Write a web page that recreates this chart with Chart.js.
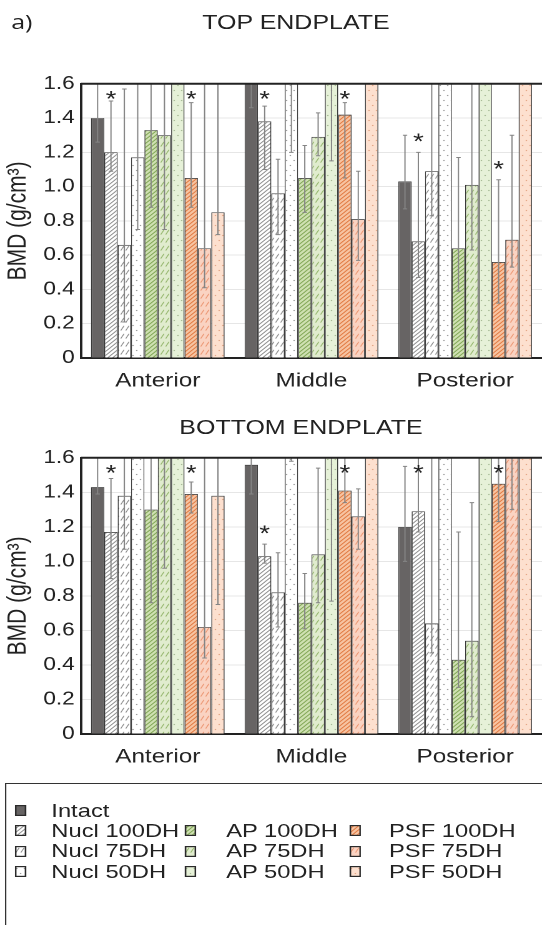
<!DOCTYPE html>
<html><head><meta charset="utf-8">
<script src="https://cdn.jsdelivr.net/npm/chart.js@4"></script>
<style>
html,body{margin:0;padding:0;background:#fff;overflow:hidden;width:542px;height:925px;}
#wrap{position:absolute;left:0;top:0;width:434px;height:925px;transform:scaleX(1.2488);transform-origin:0 0;font-family:"Liberation Sans",Arial,sans-serif;color:#222;}
.t{position:absolute;white-space:nowrap;font-size:20px;line-height:20px;}
.box{position:absolute;left:0;width:434px;}
#legend{position:absolute;left:4px;top:783px;width:480px;height:170px;border:1.5px solid #333;}
.sw{position:absolute;}
.lt{position:absolute;font-size:19px;line-height:20px;white-space:nowrap;color:#222;}
</style></head>
<body>
<div id="wrap">
  <div class="t" style="left:9px;top:12px;font-family:'Open Sans',sans-serif;font-size:20px;">a)</div>
  <div class="t" style="left:137px;top:12px;width:200px;text-align:center;">TOP ENDPLATE</div>
  <div class="box" style="top:68px;height:330px;"><canvas id="c1" width="434" height="330"></canvas></div>
  <div class="t" style="left:141px;top:417px;width:200px;text-align:center;">BOTTOM ENDPLATE</div>
  <div class="box" style="top:442px;height:332px;"><canvas id="c2" width="434" height="332"></canvas></div>
  <div id="legend"></div>
</div>
<script>
// ---------- DATA ----------
const categories = ['Anterior', 'Middle', 'Posterior'];
const seriesNames = ['Intact', 'Nucl 100DH', 'Nucl 75DH', 'Nucl 50DH', 'AP 100DH', 'AP 75DH', 'AP 50DH', 'PSF 100DH', 'PSF 75DH', 'PSF 50DH'];
const yTickValues = [0, 0.2, 0.4, 0.6, 0.8, 1.0, 1.2, 1.4, 1.6];

// TOP ENDPLATE (bars that run off the top of the axis are > 1.6)
const topValues = [
  [1.40, 1.75, 1.03],
  [1.20, 1.38, 0.68],
  [0.66, 0.96, 1.09],
  [1.17, 1.75, 1.75],
  [1.33, 1.05, 0.64],
  [1.30, 1.29, 1.01],
  [1.75, 1.75, 1.75],
  [1.05, 1.42, 0.56],
  [0.64, 0.81, 0.69],
  [0.85, 1.75, 1.75]
];
const topErrLow = [
  [1.26, 1.46, 0.87],
  [1.09, 1.10, 0.47],
  [0.21, 0.72, 0.83],
  [0.75, 1.20, null],
  [0.88, 0.85, 0.39],
  [0.75, 1.18, 0.63],
  [null, 1.15, null],
  [0.88, 1.05, 0.32],
  [0.41, 0.57, 0.53],
  [0.72, null, null]
];
const topErrHigh = [
  [1.90, 1.90, 1.30],
  [1.50, 1.47, 1.20],
  [1.57, 1.16, 1.90],
  [1.90, 1.90, null],
  [1.90, 1.24, 1.17],
  [1.90, 1.43, 1.90],
  [null, 1.90, null],
  [1.49, 1.49, 1.04],
  [1.90, 1.09, 1.30],
  [1.90, null, null]
];
const topStars = [
  [0,0,0],[1,1,1],[0,0,0],[0,0,0],[0,0,0],[0,0,0],[0,0,0],[1,1,1],[0,0,0],[0,0,0]
];

// BOTTOM ENDPLATE
const bottomValues = [
  [1.43, 1.56, 1.20],
  [1.17, 1.03, 1.29],
  [1.38, 0.82, 0.64],
  [1.75, 1.75, 1.75],
  [1.30, 0.76, 0.43],
  [1.75, 1.04, 0.54],
  [1.75, 1.75, 1.75],
  [1.39, 1.41, 1.45],
  [0.62, 1.26, 1.75],
  [1.38, 1.75, 1.75]
];
const bottomErrLow = [
  [1.39, 1.39, 1.00],
  [0.90, 0.99, 1.17],
  [1.07, 0.62, 0.47],
  [null, 1.58, null],
  [0.76, 0.61, 0.27],
  [0.96, 0.76, 0.10],
  [null, 0.77, null],
  [1.28, 1.34, 1.23],
  [0.44, 1.07, 1.30],
  [0.75, null, null]
];
const bottomErrHigh = [
  [1.90, 1.90, 1.55],
  [1.48, 1.10, 1.90],
  [1.90, 1.05, 1.90],
  [null, 1.90, null],
  [1.90, 0.93, 1.17],
  [1.90, 1.54, 1.34],
  [null, 1.90, null],
  [1.46, 1.90, 1.90],
  [1.90, 1.42, 1.90],
  [1.90, null, null]
];
const bottomStars = [
  [0,0,0],[1,1,1],[0,0,0],[0,0,0],[0,0,0],[0,0,0],[0,0,0],[1,1,1],[0,0,0],[0,0,0]
];

// ---------- STYLES ----------
const fillSpecs = [
  ['solid', '#676464', null],
  ['diag',  '#ffffff', '#8a8a8a'],
  ['short', '#ffffff', '#8c8c8c'],
  ['dots',  '#ffffff', '#a0a0a0'],
  ['diag',  '#cfe1b2', '#7ea452'],
  ['short', '#e0ecce', '#94b66c'],
  ['dots',  '#e6f1d8', '#a9bd98'],
  ['diag',  '#f7c4a2', '#e0773e'],
  ['short', '#fad3c2', '#ec9672'],
  ['dots',  '#fde0cf', '#e6a888']
];

function makePattern(kind, bg, fg) {
  if (kind === 'solid') return bg;
  const S = 2;
  let w, h;
  if (kind === 'diag') { w = 4; h = 4; }
  else if (kind === 'short') { w = 4; h = 8; }
  else { w = 6; h = 10; }
  const c = document.createElement('canvas');
  c.width = w * S; c.height = h * S;
  const g = c.getContext('2d');
  g.scale(S, S);
  g.fillStyle = bg; g.fillRect(0, 0, w, h);
  g.strokeStyle = fg; g.fillStyle = fg; g.lineWidth = 0.8;
  if (kind === 'diag') {
    g.beginPath();
    g.moveTo(-1, h + 1); g.lineTo(w + 1, -1);
    g.moveTo(-1, 1); g.lineTo(1, -1);
    g.moveTo(w - 1, h + 1); g.lineTo(w + 1, h - 1);
    g.stroke();
  } else if (kind === 'short') {
    g.beginPath(); g.moveTo(0.7, 6.6); g.lineTo(3.3, 1.8); g.stroke();
  } else {
    g.beginPath(); g.arc(1.5, 2.5, 0.65, 0, Math.PI * 2); g.fill();
    g.beginPath(); g.arc(4.5, 7.5, 0.65, 0, Math.PI * 2); g.fill();
  }
  const p = document.createElement('canvas').getContext('2d').createPattern(c, 'repeat');
  p.setTransform(new DOMMatrix([1 / S, 0, 0, 1 / S, 0, 0]));
  return p;
}
const fills = fillSpecs.map(s => makePattern(s[0], s[1], s[2]));

const FONT = "'Liberation Sans', Arial, sans-serif";
const INK = '#222222';

const errPlugin = {
  id: 'errStars',
  afterDatasetsDraw(chart) {
    const ctx = chart.ctx, ca = chart.chartArea, ys = chart.scales.y;
    ctx.save();
    ctx.beginPath();
    ctx.rect(ca.left, ca.top, ca.right - ca.left, ca.bottom - ca.top);
    ctx.clip();
    ctx.strokeStyle = '#858585';
    ctx.lineWidth = 1;
    const cw = 1.8;
    chart.data.datasets.forEach((ds, i) => {
      const meta = chart.getDatasetMeta(i);
      meta.data.forEach((bar, j) => {
        const lo = ds.errLow[j], hi = ds.errHigh[j];
        if (lo == null || hi == null) return;
        const x = bar.x, y1 = ys.getPixelForValue(lo), y2 = ys.getPixelForValue(hi);
        ctx.beginPath();
        ctx.moveTo(x, y1); ctx.lineTo(x, y2);
        ctx.moveTo(x - cw, y1); ctx.lineTo(x + cw, y1);
        ctx.moveTo(x - cw, y2); ctx.lineTo(x + cw, y2);
        ctx.stroke();
      });
    });
    ctx.restore();
    // significance stars
    ctx.save();
    ctx.fillStyle = INK;
    ctx.font = '22px ' + FONT;
    ctx.textAlign = 'center';
    ctx.textBaseline = 'alphabetic';
    chart.data.datasets.forEach((ds, i) => {
      const meta = chart.getDatasetMeta(i);
      meta.data.forEach((bar, j) => {
        if (!ds.stars[j]) return;
        const hi = ds.errHigh[j];
        const hp = hi == null ? ys.getPixelForValue(ds.data[j]) : ys.getPixelForValue(hi);
        const sy = Math.max(ca.top + 10, hp - 16);
        ctx.fillText('*', bar.x, sy + 12.8);
      });
    });
    // top frame line
    ctx.strokeStyle = INK;
    ctx.lineWidth = 2;
    ctx.beginPath();
    ctx.moveTo(ca.left, ca.top); ctx.lineTo(ca.right, ca.top);
    ctx.stroke();
    ctx.restore();
  }
};

function buildChart(id, values, lows, highs, stars) {
  const datasets = seriesNames.map((name, i) => ({
    label: name,
    data: values[i],
    errLow: lows[i],
    errHigh: highs[i],
    stars: stars[i],
    backgroundColor: fills[i],
    borderColor: '#3a3a3a',
    borderWidth: 0.8
  }));
  return new Chart(document.getElementById(id), {
    type: 'bar',
    data: { labels: categories, datasets },
    options: {
      responsive: false,
      devicePixelRatio: 2,
      animation: false,
      layout: { padding: { top: 11, left: 0, right: 0, bottom: 0 } },
      plugins: { legend: { display: false }, tooltip: { enabled: false }, title: { display: false } },
      datasets: { bar: { categoryPercentage: 0.87, barPercentage: 1.0 } },
      scales: {
        x: {
          grid: { display: false, drawTicks: false },
          border: { display: true, color: INK, width: 2 },
          ticks: { color: INK, font: { family: FONT, size: 19.5 }, padding: 11.5, maxRotation: 0 },
          afterFit(s) { s.height = 40; }
        },
        y: {
          min: 0, max: 1.6,
          afterBuildTicks(s) { s.ticks = yTickValues.map(v => ({ value: v })); },
          grid: { color: '#e6e6e6', lineWidth: 1, drawTicks: false },
          border: { display: true, color: INK, width: 2 },
          ticks: {
            color: INK, font: { family: FONT, size: 18 }, padding: 5,
            callback: v => (v === 0 ? '0' : Number(v).toFixed(1))
          },
          title: { display: true, text: 'BMD (g/cm³)', color: INK, font: { family: FONT, size: 21 }, padding: { top: 2, bottom: 0 } },
          afterFit(s) { s.width = 64.8; }
        }
      }
    },
    plugins: [errPlugin]
  });
}

buildChart('c1', topValues, topErrLow, topErrHigh, topStars);
buildChart('c2', bottomValues, bottomErrLow, bottomErrHigh, bottomStars);

// ---------- LEGEND ----------
const legend = document.getElementById('legend');
const legendCols = [[6.5, 36.1], [143.3, 176.1], [274.5, 306.5]];
const legendRows = [16.5, 36.5, 57, 77.5];
const legendPlace = [[0,0],[0,1],[0,2],[0,3],[1,1],[1,2],[1,3],[2,1],[2,2],[2,3]];
seriesNames.forEach((name, i) => {
  const [col, row] = legendPlace[i];
  const top = legendRows[row];
  const c = document.createElement('canvas');
  c.width = 18; c.height = 22;
  c.className = 'sw';
  c.style.width = '9px'; c.style.height = '11px';
  c.style.left = legendCols[col][0] + 'px';
  c.style.top = (top + 4.5) + 'px';
  const g = c.getContext('2d');
  g.scale(2, 2);
  g.fillStyle = fills[i];
  g.fillRect(0, 0, 9, 11);
  g.strokeStyle = '#2a2a2a';
  g.lineWidth = 1.2;
  g.strokeRect(0.6, 0.6, 7.8, 9.8);
  legend.appendChild(c);
  const t = document.createElement('div');
  t.className = 'lt';
  t.textContent = name;
  t.style.left = legendCols[col][1] + 'px';
  t.style.top = top + 'px';
  legend.appendChild(t);
});
</script>
</body></html>
